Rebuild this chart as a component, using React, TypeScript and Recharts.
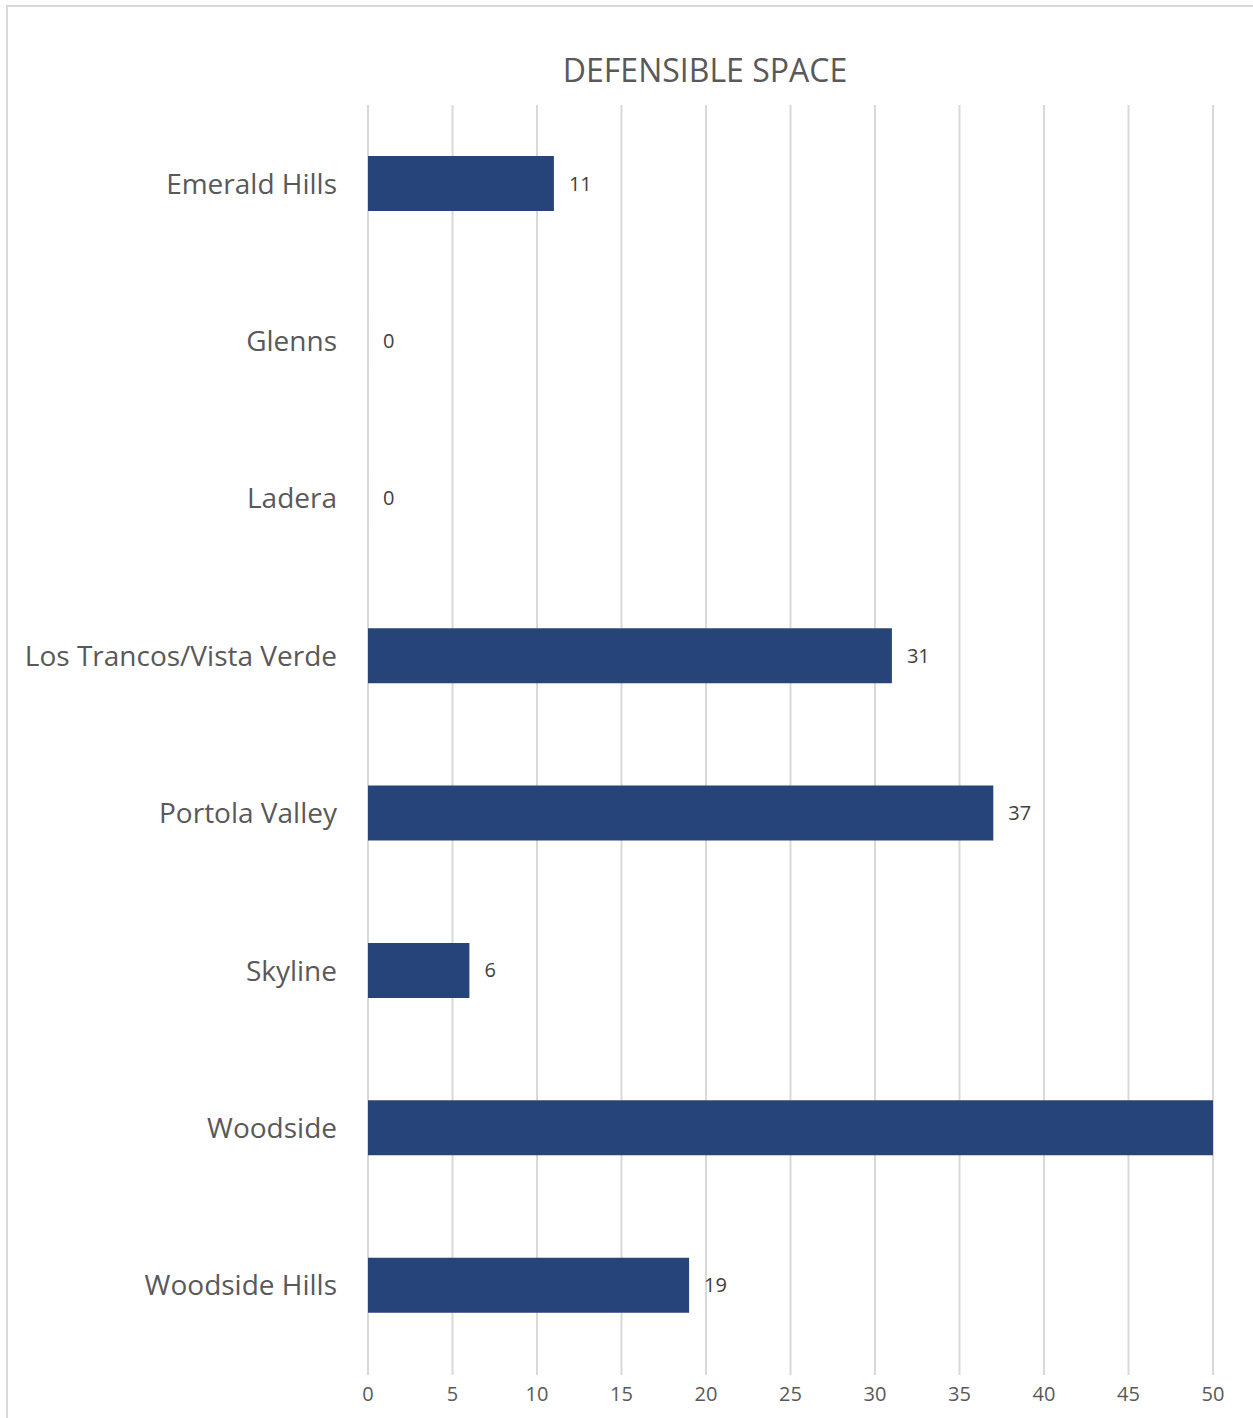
import { BarChart, Bar, XAxis, YAxis, CartesianGrid, LabelList } from 'recharts'

const areas = [
  'Emerald Hills',
  'Glenns',
  'Ladera',
  'Los Trancos/Vista Verde',
  'Portola Valley',
  'Skyline',
  'Woodside',
  'Woodside Hills',
]
const defensibleSpace = [11, 0, 0, 31, 37, 6, 50, 19]
const xTicks = [0, 5, 10, 15, 20, 25, 30, 35, 40, 45, 50]

const data = areas.map((area, i) => ({ area, value: defensibleSpace[i] }))

const font = '"Open Sans", Lato, sans-serif'

// Excel hides the label of the bar that runs off the axis max
const renderLabel = (props: any) => {
  const { x, y, width, height, value } = props
  if (value >= 50) return null
  return (
    <text
      x={x + width + 15}
      y={y + height / 2}
      dy="0.35em"
      fill="#404040"
      fontSize={20}
      fontFamily={font}
    >
      {value}
    </text>
  )
}

export default function App() {
  return (
    <div style={{ position: 'absolute', left: 0, top: 0, width: 1253, height: 1418, overflow: 'hidden', background: '#fff' }}>
      <div
        style={{
          position: 'absolute',
          left: 6,
          top: 5,
          width: 1270,
          height: 1440,
          border: '2px solid #d9d9d9',
          boxSizing: 'border-box',
        }}
      />
      <div
        style={{
          position: 'absolute',
          left: 0,
          top: 50,
          width: 1410,
          textAlign: 'center',
          fontFamily: font,
          fontSize: 32,
          lineHeight: '40px',
          color: '#595959',
        }}
      >
        DEFENSIBLE SPACE
      </div>
      <div style={{ position: 'absolute', left: 0, top: 0 }}>
        <BarChart
          width={1253}
          height={1418}
          data={data}
          layout="vertical"
          barSize={55}
          margin={{ top: 105, right: 40, left: 0, bottom: 0 }}
        >
          <CartesianGrid horizontal={false} stroke="#d9d9d9" strokeWidth={2} />
          <XAxis
            type="number"
            domain={[0, 50]}
            ticks={xTicks}
            allowDataOverflow
            height={54}
            axisLine={false}
            tickLine={{ stroke: '#d9d9d9', strokeWidth: 2 }}
            tickSize={11}
            tickMargin={12}
            tick={{ fill: '#595959', fontSize: 20, fontFamily: font }}
          />
          <YAxis
            type="category"
            dataKey="area"
            width={368}
            axisLine={false}
            tickLine={false}
            tickSize={0}
            tickMargin={31}
            tick={{ fill: '#595959', fontSize: 28, fontFamily: font }}
          />
          <Bar dataKey="value" fill="#264478" minPointSize={0.01} isAnimationActive={false}>
            <LabelList dataKey="value" content={renderLabel} />
          </Bar>
        </BarChart>
      </div>
    </div>
  )
}
